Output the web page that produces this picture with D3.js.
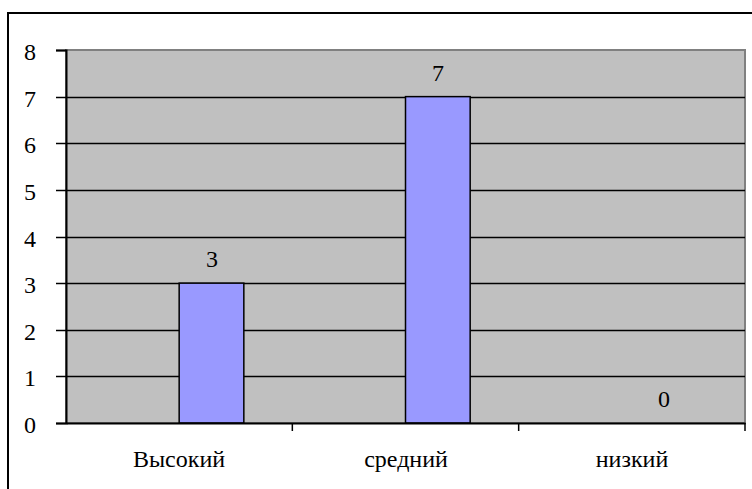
<!DOCTYPE html>
<html>
<head>
<meta charset="utf-8">
<script src="https://cdn.jsdelivr.net/npm/d3@7/dist/d3.min.js"></script>
<style>
  html, body { margin: 0; padding: 0; background: #fff; }
  svg { display: block; }
  svg text { font-family: "Liberation Serif" !important; }
</style>
</head>
<body>
<svg id="chart" width="752" height="489"></svg>
<script>
// Chart data
const categories = ["Высокий", "средний", "низкий"];
const values = [3, 7, 0];
const yTicks = [0, 1, 2, 3, 4, 5, 6, 7, 8];

const plot = { left: 66, top: 50, right: 745, bottom: 423 };
const fontFamily = "Liberation Serif";
const fontSize = "24px";

const svg = d3.select("#chart");

// Outer chart frame (extends past the bottom/right edges)
svg.append("rect")
  .attr("x", 8).attr("y", 13)
  .attr("width", 760).attr("height", 500)
  .attr("fill", "#fff").attr("stroke", "#000").attr("stroke-width", 2);

const x = d3.scaleBand().domain(categories).range([plot.left, plot.right]).padding(0);
const y = d3.scaleLinear().domain([0, 8]).range([plot.bottom, plot.top]);

// Plot area background
svg.append("rect")
  .attr("x", plot.left).attr("y", plot.top)
  .attr("width", plot.right - plot.left).attr("height", plot.bottom - plot.top)
  .attr("fill", "#C0C0C0").attr("stroke", "#808080").attr("stroke-width", 2);

// Horizontal gridlines
svg.append("g").selectAll("line").data(yTicks.filter(d => d > 0 && d < 8)).join("line")
  .attr("x1", plot.left).attr("x2", plot.right)
  .attr("y1", d => Math.round(y(d)) + 0.5).attr("y2", d => Math.round(y(d)) + 0.5)
  .attr("stroke", "#000").attr("stroke-width", 1.5);

// Bars: the series sits in the right half of each category cluster
const barW = x.bandwidth() / 3.5;
svg.append("g").selectAll("rect").data(values).join("rect")
  .attr("x", (d, i) => x(categories[i]) + x.bandwidth() / 2)
  .attr("y", d => y(d))
  .attr("width", barW)
  .attr("height", d => y(0) - y(d))
  .attr("fill", "#9999FF").attr("stroke", "#000").attr("stroke-width", 1.5);

// Value labels
svg.append("g").selectAll("text").data(values).join("text")
  .attr("x", (d, i) => Math.round(x(categories[i]) + x.bandwidth() / 2 + barW / 2))
  .attr("y", d => Math.round(y(d) - 16))
  .attr("text-anchor", "middle")
  .attr("font-family", fontFamily)
  .style("font-size", fontSize)
  .attr("fill", "#000")
  .text(d => d);

// Y axis
const yAxis = svg.append("g").attr("transform", `translate(${plot.left},0)`)
  .call(d3.axisLeft(y).tickValues(yTicks).tickSize(10).tickPadding(20).tickFormat(d3.format("d")))
  .attr("font-family", fontFamily);
yAxis.selectAll(".tick").attr("transform", d => `translate(0,${Math.round(y(d))})`);
yAxis.select(".domain").attr("stroke", "#000").attr("stroke-width", 2);
yAxis.selectAll(".tick line").attr("stroke", "#000").attr("stroke-width", 1.5).attr("transform", "translate(0,0.5)");
yAxis.selectAll(".tick text")
  .attr("font-family", fontFamily)
  .style("font-size", fontSize)
  .attr("fill", "#000")
  .attr("dy", null)
  .attr("y", 10);

// X axis
const xAxis = svg.append("g").attr("transform", `translate(0,${plot.bottom})`)
  .call(d3.axisBottom(x).tickSize(0).tickPadding(0))
  .attr("font-family", fontFamily);
xAxis.selectAll(".tick").attr("transform", d => `translate(${Math.round(x(d) + x.bandwidth() / 2)},0)`);
xAxis.select(".domain").attr("stroke", "#000").attr("stroke-width", 2);
xAxis.selectAll(".tick text")
  .attr("font-family", fontFamily)
  .style("font-size", fontSize)
  .attr("fill", "#000")
  .attr("y", 467 - plot.bottom).attr("dy", null);

// Category separator ticks below the axis
const boundaries = categories.map(c => x(c) + x.bandwidth());
svg.append("g").selectAll("line").data(boundaries).join("line")
  .attr("x1", d => d).attr("x2", d => d)
  .attr("y1", plot.bottom).attr("y2", plot.bottom + 8)
  .attr("stroke", "#000").attr("stroke-width", 1.5);

// Force a style pass so text metrics resolve with the chosen face
svg.selectAll("text").each(function () { getComputedStyle(this).fontFamily; this.getBBox(); });
</script>
</body>
</html>
